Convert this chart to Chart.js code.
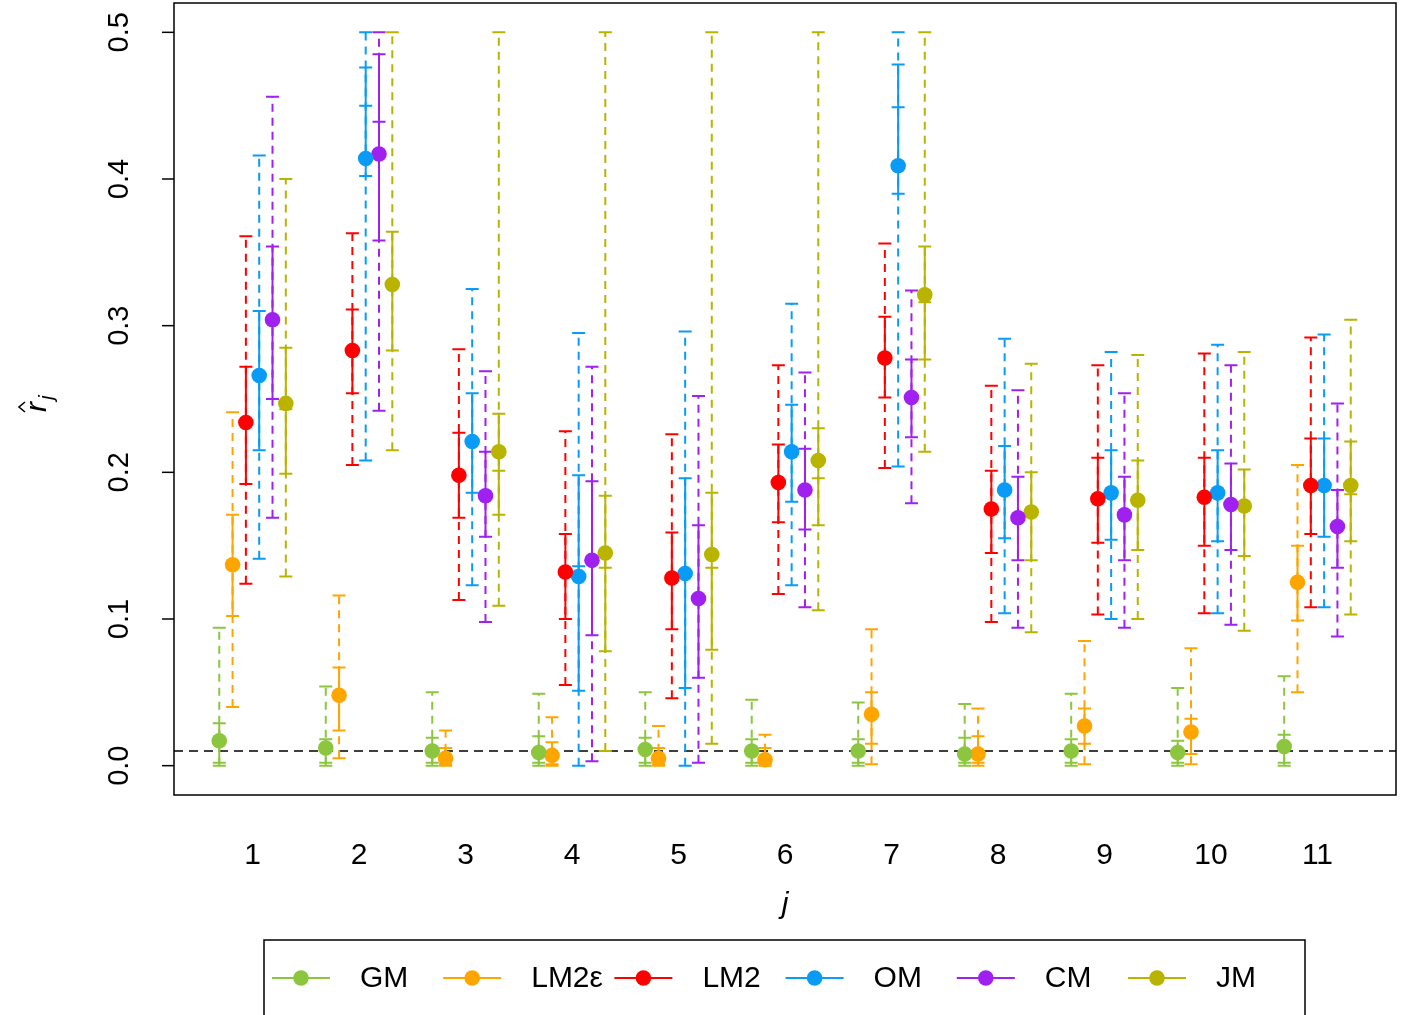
<!DOCTYPE html>
<html>
<head>
<meta charset="utf-8">
<script src="https://cdn.jsdelivr.net/npm/chart.js@4/dist/chart.umd.min.js"></script>
<style>
html,body{margin:0;padding:0;background:#fff;}
canvas{display:block;}
</style>
</head>
<body>
<canvas id="c" width="1406" height="1015"></canvas>
<script>
// ---------------- data ----------------
const cats = [1,2,3,4,5,6,7,8,9,10,11];
const xTickLabels = ['1','2','3','4','5','6','7','8','9','10','11'];
const yTicks = [0,0.1,0.2,0.3,0.4,0.5];
const yTickLabels = ['0.0','0.1','0.2','0.3','0.4','0.5'];
const seriesNames = ['GM','LM2ε','LM2','OM','CM','JM'];
const refValue = 0.01;

// GM
const est_GM      = [0.017,0.012,0.010,0.009,0.011,0.010,0.010,0.008,0.010,0.009,0.013];
const innerLo_GM  = [0.002,0.002,0.002,0.002,0.002,0.002,0.002,0.002,0.002,0.002,0.002];
const innerHi_GM  = [0.029,0.018,0.019,0.020,0.019,0.018,0.018,0.019,0.018,0.017,0.021];
const outerLo_GM  = [0,0,0,0,0,0,0,0,0,0,0];
const outerHi_GM  = [0.094,0.054,0.050,0.049,0.050,0.045,0.043,0.042,0.049,0.053,0.061];
const extra_GM    = [null,null,null,null,null,null,null,null,null,null,null];
// LM2ε
const est_LM2e     = [0.137,0.048,0.005,0.007,0.005,0.004,0.035,0.008,0.027,0.023,0.125];
const innerLo_LM2e = [0.102,0.024,0.001,0.001,0.001,0.001,0.015,0.002,0.015,0.008,0.099];
const innerHi_LM2e = [0.171,0.067,0.012,0.016,0.012,0.012,0.050,0.020,0.039,0.032,0.150];
const outerLo_LM2e = [0.040,0.005,0,0,0,0,0.001,0,0.001,0.001,0.050];
const outerHi_LM2e = [0.241,0.116,0.024,0.033,0.027,0.021,0.093,0.039,0.085,0.080,0.205];
const extra_LM2e   = [null,null,null,null,null,null,null,null,null,null,null];
// LM2
const est_LM2      = [0.234,0.283,0.198,0.132,0.128,0.193,0.278,0.175,0.182,0.183,0.191];
const innerLo_LM2  = [0.192,0.254,0.169,0.100,0.093,0.166,0.251,0.145,0.152,0.150,0.158];
const innerHi_LM2  = [0.272,0.311,0.227,0.158,0.159,0.219,0.306,0.201,0.210,0.210,0.223];
const outerLo_LM2  = [0.124,0.205,0.113,0.055,0.046,0.117,0.203,0.098,0.103,0.104,0.108];
const outerHi_LM2  = [0.361,0.363,0.284,0.228,0.226,0.273,0.356,0.259,0.273,0.281,0.292];
const extra_LM2    = [null,null,null,null,null,null,null,null,null,null,null];
// OM
const est_OM       = [0.266,0.414,0.221,0.129,0.131,0.214,0.409,0.188,0.186,0.186,0.191];
const innerLo_OM   = [0.215,0.402,0.186,0.051,0.053,0.180,0.390,0.155,0.154,0.153,0.156];
const innerHi_OM   = [0.310,0.476,0.254,0.198,0.196,0.246,0.478,0.218,0.215,0.215,0.223];
const outerLo_OM   = [0.141,0.208,0.123,0,0,0.123,0.204,0.104,0.100,0.104,0.108];
const outerHi_OM   = [0.416,0.5,0.325,0.295,0.296,0.315,0.5,0.291,0.282,0.287,0.294];
const extra_OM     = [null,0.450,null,0.136,null,null,0.449,null,null,null,null];
// CM
const est_CM       = [0.304,0.417,0.184,0.140,0.114,0.188,0.251,0.169,0.171,0.178,0.163];
const innerLo_CM   = [0.250,0.358,0.156,0.089,0.060,0.161,0.224,0.140,0.140,0.147,0.135];
const innerHi_CM   = [0.354,0.485,0.214,0.194,0.164,0.216,0.277,0.197,0.197,0.206,0.188];
const outerLo_CM   = [0.169,0.242,0.098,0.003,0.002,0.108,0.179,0.094,0.094,0.096,0.088];
const outerHi_CM   = [0.456,0.5,0.269,0.272,0.252,0.268,0.324,0.256,0.254,0.273,0.247];
const extra_CM     = [null,0.439,null,null,null,null,null,null,null,null,null];
// JM
const est_JM       = [0.247,0.328,0.214,0.145,0.144,0.208,0.321,0.173,0.181,0.177,0.191];
const innerLo_JM   = [0.199,0.283,0.171,0.078,0.079,0.164,0.277,0.140,0.147,0.143,0.153];
const innerHi_JM   = [0.285,0.364,0.240,0.184,0.186,0.230,0.354,0.200,0.208,0.202,0.221];
const outerLo_JM   = [0.129,0.215,0.109,0.010,0.015,0.106,0.214,0.091,0.100,0.092,0.103];
const outerHi_JM   = [0.400,0.5,0.5,0.5,0.5,0.5,0.5,0.274,0.280,0.282,0.304];
const extra_JM     = [0.243,null,0.201,0.135,0.135,0.196,0.316,null,null,null,0.185];

// ---------------- styling ----------------
const colors = ['#8CC63F','#FFA500','#FF0000','#0A9BF7','#A020F0','#B8B400'];
const offsets = [-0.3125,-0.1875,-0.0625,0.0625,0.1875,0.3125];
const FONT = '"Liberation Sans", Arial, Helvetica, sans-serif';

const table = [
  {est:est_GM, iLo:innerLo_GM, iHi:innerHi_GM, oLo:outerLo_GM, oHi:outerHi_GM, ex:extra_GM},
  {est:est_LM2e, iLo:innerLo_LM2e, iHi:innerHi_LM2e, oLo:outerLo_LM2e, oHi:outerHi_LM2e, ex:extra_LM2e},
  {est:est_LM2, iLo:innerLo_LM2, iHi:innerHi_LM2, oLo:outerLo_LM2, oHi:outerHi_LM2, ex:extra_LM2},
  {est:est_OM, iLo:innerLo_OM, iHi:innerHi_OM, oLo:outerLo_OM, oHi:outerHi_OM, ex:extra_OM},
  {est:est_CM, iLo:innerLo_CM, iHi:innerHi_CM, oLo:outerLo_CM, oHi:outerHi_CM, ex:extra_CM},
  {est:est_JM, iLo:innerLo_JM, iHi:innerHi_JM, oLo:outerLo_JM, oHi:outerHi_JM, ex:extra_JM}
];

const CAP = 6.5;
const LW = 2;

const errorBars = {
  id:'errorBars',
  beforeDatasetsDraw(chart){
    const {ctx, scales:{x, y}, chartArea:a} = chart;
    ctx.save();
    ctx.strokeStyle = '#000';
    ctx.lineWidth = 1.6;
    ctx.setLineDash([9,6]);
    ctx.beginPath();
    ctx.moveTo(a.left, y.getPixelForValue(refValue));
    ctx.lineTo(a.right, y.getPixelForValue(refValue));
    ctx.stroke();
    table.forEach((s, si) => {
      ctx.strokeStyle = colors[si];
      ctx.lineWidth = LW;
      cats.forEach((c, ci) => {
        const px = x.getPixelForValue(c + offsets[si]);
        const yoL = y.getPixelForValue(s.oLo[ci]);
        const yoH = y.getPixelForValue(s.oHi[ci]);
        const yiL = y.getPixelForValue(s.iLo[ci]);
        const yiH = y.getPixelForValue(s.iHi[ci]);
        ctx.setLineDash([8,6]);
        ctx.beginPath();
        ctx.moveTo(px, yoL); ctx.lineTo(px, yoH);
        ctx.stroke();
        ctx.setLineDash([]);
        ctx.beginPath();
        ctx.moveTo(px, yiL); ctx.lineTo(px, yiH);
        ctx.stroke();
        const caps = [yoL, yoH, yiL, yiH];
        if (s.ex[ci] !== null) caps.push(y.getPixelForValue(s.ex[ci]));
        ctx.beginPath();
        caps.forEach(cy => { ctx.moveTo(px - CAP, cy); ctx.lineTo(px + CAP, cy); });
        ctx.stroke();
      });
    });
    ctx.restore();
  },
  afterDraw(chart){
    const {ctx, scales:{x, y}, chartArea:a} = chart;
    ctx.save();
    ctx.strokeStyle = '#000';
    ctx.lineWidth = 1.5;
    ctx.setLineDash([]);
    ctx.strokeRect(a.left, a.top, a.right - a.left, a.bottom - a.top);
    ctx.fillStyle = '#000';
    ctx.font = '29px ' + FONT;
    yTicks.forEach((v, i) => {
      const py = y.getPixelForValue(v);
      ctx.beginPath();
      ctx.moveTo(a.left - 12, py); ctx.lineTo(a.left, py);
      ctx.stroke();
      ctx.save();
      ctx.translate(128, py);
      ctx.rotate(-Math.PI/2);
      ctx.textAlign = 'center';
      ctx.textBaseline = 'alphabetic';
      ctx.fillText(yTickLabels[i], 0, 0);
      ctx.restore();
    });
    ctx.font = '30px ' + FONT;
    ctx.textAlign = 'center';
    ctx.textBaseline = 'alphabetic';
    cats.forEach((c, i) => {
      ctx.fillText(xTickLabels[i], x.getPixelForValue(c), 864);
    });
    ctx.font = 'italic 30px ' + FONT;
    ctx.fillText('j', (a.left + a.right)/2, 913);
    // y title r-hat sub j
    ctx.save();
    ctx.translate(46, 407);
    ctx.rotate(-Math.PI/2);
    ctx.font = 'italic 30px ' + FONT;
    ctx.textAlign = 'center';
    ctx.fillText('r', 0, 0);
    ctx.lineWidth = 1.6;
    ctx.beginPath();
    ctx.moveTo(-5, -21); ctx.lineTo(0, -27); ctx.lineTo(5, -21);
    ctx.stroke();
    ctx.font = 'italic 21px ' + FONT;
    ctx.textAlign = 'left';
    ctx.fillText('j', 7, 7);
    ctx.restore();
    // legend
    ctx.lineWidth = 1.5;
    ctx.strokeRect(264, 940, 1305 - 264, 100);
    ctx.font = '30px ' + FONT;
    ctx.textAlign = 'left';
    ctx.textBaseline = 'middle';
    seriesNames.forEach((nm, i) => {
      const x0 = 272 + i * 171.2;
      const ly = 978;
      ctx.strokeStyle = colors[i];
      ctx.lineWidth = LW;
      ctx.beginPath();
      ctx.moveTo(x0, ly); ctx.lineTo(x0 + 58, ly);
      ctx.stroke();
      ctx.fillStyle = colors[i];
      ctx.beginPath();
      ctx.arc(x0 + 29, ly, 7.8, 0, Math.PI*2);
      ctx.fill();
      ctx.fillStyle = '#000';
      ctx.fillText(nm, x0 + 88, ly + 1);
    });
    ctx.restore();
  }
};

new Chart(document.getElementById('c'), {
  type:'scatter',
  data:{
    datasets: table.map((s, si) => ({
      label: seriesNames[si],
      data: cats.map((c, ci) => ({x: c + offsets[si], y: s.est[ci]})),
      backgroundColor: colors[si],
      borderColor: colors[si],
      borderWidth: 0,
      pointRadius: 7.8,
      pointHoverRadius: 7.8
    }))
  },
  options:{
    responsive:false,
    animation:false,
    devicePixelRatio:1,
    events:[],
    layout:{autoPadding:false, padding:{top:3, right:10, left:0, bottom:0}},
    plugins:{legend:{display:false}, tooltip:{enabled:false}},
    scales:{
      x:{type:'linear', min:0.2625, max:11.7375,
         grid:{display:false}, border:{display:false}, ticks:{display:false},
         afterFit(s){ s.height = 220; }},
      y:{type:'linear', min:-0.02, max:0.52,
         grid:{display:false}, border:{display:false}, ticks:{display:false},
         afterFit(s){ s.width = 174; }}
    }
  },
  plugins:[errorBars]
});
</script>
</body>
</html>
